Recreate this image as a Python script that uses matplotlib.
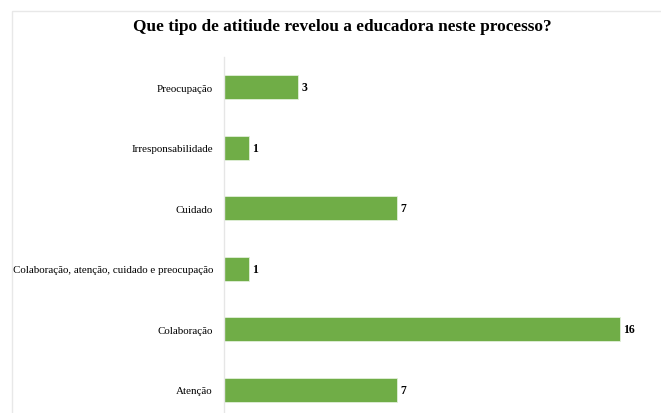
import matplotlib.pyplot as plt
from matplotlib.patches import Rectangle

categories = ['Preocupação', 'Irresponsabilidade', 'Cuidado',
              'Colaboração, atenção, cuidado e preocupação', 'Colaboração', 'Atenção']
values = [3, 1, 7, 1, 16, 7]

plt.rcParams['font.family'] = ['Liberation Serif', 'DejaVu Serif']

fig = plt.figure(figsize=(6.61, 4.14), dpi=100)
W, H = 661, 414

# light frame of the original chart area
fig.patches.append(Rectangle((12 / W, -0.1), 1.0, 1 - 12 / H + 0.1,
                             transform=fig.transFigure, fill=False,
                             edgecolor='#e8e8e8', linewidth=1.0))

ax = fig.add_axes([224 / W, 1 - 421 / H, 1 - 224 / W, 363 / H])
pos = list(range(len(categories)))[::-1]
ax.barh(pos, values, height=0.39, color='#70AD47', edgecolor='#e2f0d9', linewidth=0.6)
for p, v in zip(pos, values):
    ax.text(v + 0.12, p, str(v), va='center', ha='left', fontsize=8.5, fontweight='bold')

ax.set_yticks(pos)
ax.set_yticklabels(categories, fontsize=7.9)
ax.set_xlim(0, 17.65)
ax.set_ylim(-0.5, len(categories) - 0.5)
ax.set_xticks([])
ax.tick_params(axis='y', length=0, pad=8)
for s in ['top', 'right', 'bottom']:
    ax.spines[s].set_visible(False)
ax.spines['left'].set_color('#e6e6e6')
ax.spines['left'].set_linewidth(1.0)

fig.text(342 / W, 1 - 27 / H, 'Que tipo de atitiude revelou a educadora neste processo?',
         ha='center', va='center', fontsize=12.4, fontweight='bold')

fig.savefig('out.png', dpi=100)
